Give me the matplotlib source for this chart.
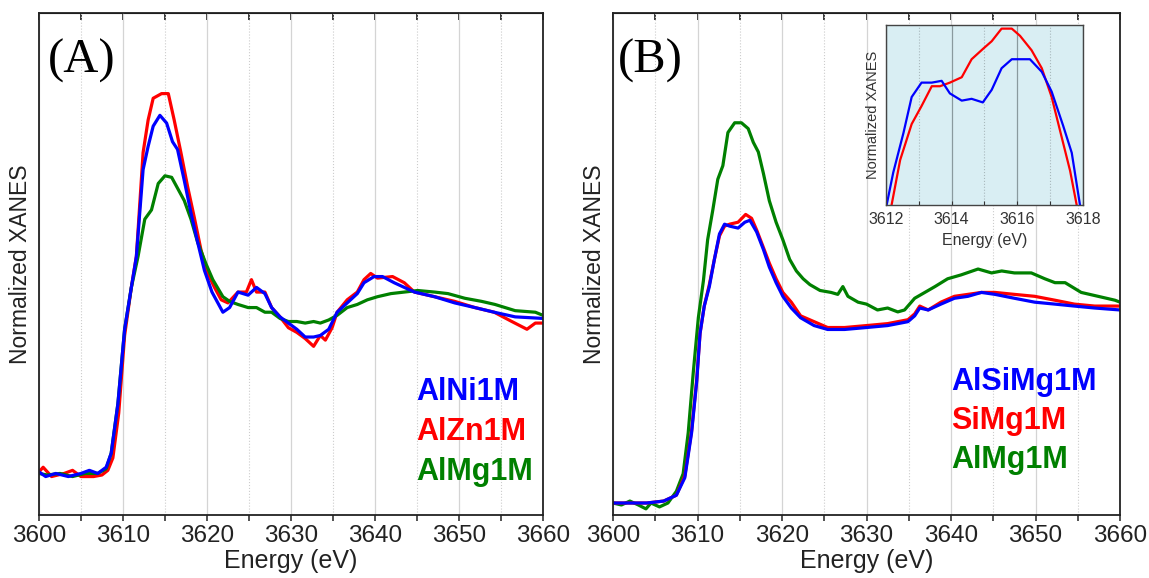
import numpy as np
import matplotlib
matplotlib.use("Agg")
import matplotlib.pyplot as plt
from matplotlib.ticker import MultipleLocator, NullLocator

plt.rcParams['font.family'] = ['Liberation Sans', 'DejaVu Sans']

#--- panel A : Al K-edge XANES of the M-doped samples
e_a_ni = [3600, 3600.8, 3602, 3603.5, 3605, 3606, 3607, 3608, 3608.6, 3609.4,
          3610.2, 3611.0, 3611.6, 3612.4, 3613.0, 3613.6, 3614.4, 3615.2, 3615.9, 3616.5,
          3617.3, 3618.1, 3618.9, 3619.7, 3620.6, 3621.9, 3622.7, 3623.7, 3624.9, 3625.9,
          3626.9, 3627.7, 3628.7, 3629.7, 3630.7, 3631.7, 3632.7, 3633.5, 3634.5, 3635.5,
          3636.7, 3637.9, 3638.7, 3639.9, 3640.9, 3642.3, 3644.7, 3647.1, 3649.5, 3651.9,
          3654.2, 3656.7, 3660]
mu_a_ni = [0.02, -0.01, 0.01, -0.01, 0.01, 0.03, 0.01, 0.05, 0.14, 0.46,
           0.94, 1.21, 1.41, 1.97, 2.12, 2.25, 2.32, 2.27, 2.15, 2.10,
           1.90, 1.69, 1.50, 1.32, 1.18, 1.05, 1.08, 1.18, 1.16, 1.21,
           1.17, 1.08, 1.02, 0.98, 0.94, 0.89, 0.89, 0.90, 0.94, 1.05,
           1.11, 1.17, 1.24, 1.28, 1.28, 1.24, 1.18, 1.15, 1.11, 1.08,
           1.05, 1.02, 1.01]

e_a_zn = [3600, 3600.5, 3601.5, 3603, 3604, 3605, 3606.5, 3607.5, 3608.2, 3608.8,
          3609.5, 3610.2, 3611.0, 3611.6, 3612.4, 3613.0, 3613.6, 3614.6, 3615.4, 3616.1,
          3616.9, 3617.7, 3618.5, 3619.3, 3620.1, 3620.9, 3621.7, 3622.5, 3623.7, 3624.7,
          3625.3, 3625.9, 3626.9, 3627.7, 3628.7, 3629.7, 3630.7, 3631.7, 3632.7, 3633.5,
          3634.1, 3634.9, 3635.5, 3636.7, 3637.9, 3638.7, 3639.5, 3640.3, 3642.1, 3643.5,
          3644.7, 3647.1, 3649.5, 3651.9, 3654.2, 3656.3, 3658.1, 3659.1, 3660]
mu_a_zn = [0.02, 0.05, -0.01, 0.01, 0.03, -0.01, -0.01, 0.00, 0.03, 0.11,
           0.40, 0.90, 1.21, 1.41, 2.08, 2.29, 2.43, 2.46, 2.46, 2.29,
           2.08, 1.86, 1.66, 1.45, 1.30, 1.21, 1.13, 1.11, 1.18, 1.18,
           1.26, 1.18, 1.18, 1.08, 1.02, 0.95, 0.92, 0.88, 0.83, 0.90,
           0.87, 0.95, 1.05, 1.13, 1.18, 1.26, 1.30, 1.27, 1.28, 1.24,
           1.18, 1.15, 1.12, 1.08, 1.05, 0.99, 0.94, 0.98, 0.98]

e_a_mg = [3600, 3601, 3602.5, 3604, 3605.5, 3607, 3608, 3608.6, 3609.4, 3610.2,
          3611.0, 3611.8, 3612.6, 3613.4, 3614.2, 3615.0, 3615.8, 3616.6, 3617.3, 3618.1,
          3618.9, 3619.9, 3620.7, 3621.9, 3622.7, 3623.7, 3624.9, 3625.9, 3626.9, 3627.7,
          3628.7, 3629.7, 3630.7, 3631.7, 3632.7, 3633.5, 3634.5, 3635.5, 3636.7, 3637.9,
          3639.1, 3640.3, 3641.9, 3643.5, 3645.1, 3647.1, 3648.7, 3650.7, 3652.7, 3654.3,
          3656.7, 3659.1, 3660]
mu_a_mg = [0.01, 0.00, 0.01, -0.01, 0.01, 0.01, 0.04, 0.14, 0.46, 0.94,
           1.21, 1.41, 1.65, 1.71, 1.88, 1.93, 1.92, 1.84, 1.77, 1.65,
           1.50, 1.36, 1.26, 1.15, 1.12, 1.10, 1.08, 1.08, 1.05, 1.05,
           1.01, 0.99, 0.99, 0.98, 0.99, 0.98, 1.00, 1.03, 1.08, 1.10,
           1.13, 1.15, 1.17, 1.18, 1.19, 1.18, 1.17, 1.14, 1.12, 1.10,
           1.06, 1.05, 1.03]

#--- panel B
e_b_alsimg = [3600, 3602, 3604, 3606, 3607.5, 3608.5, 3609.3, 3609.9, 3610.3, 3610.8,
              3611.4, 3612.0, 3612.6, 3613.2, 3613.8, 3614.8, 3615.6, 3616.2, 3617.0, 3617.8,
              3618.5, 3619.3, 3620.1, 3621.1, 3622.2, 3623.8, 3625.4, 3627.4, 3630.0, 3632.5,
              3634.9, 3635.7, 3636.3, 3637.3, 3638.8, 3640.4, 3642.0, 3643.6, 3645.2, 3647.5,
              3649.9, 3652.3, 3654.6, 3657.0, 3660]
mu_b_alsimg = [0.00, 0.00, 0.00, 0.01, 0.04, 0.13, 0.36, 0.62, 0.87, 1.01,
               1.11, 1.25, 1.38, 1.43, 1.42, 1.41, 1.44, 1.45, 1.39, 1.30,
               1.21, 1.13, 1.06, 1.00, 0.95, 0.91, 0.89, 0.89, 0.90, 0.91,
               0.93, 0.96, 1.00, 0.99, 1.02, 1.05, 1.06, 1.08, 1.07, 1.05,
               1.03, 1.02, 1.01, 1.00, 0.99]

e_b_simg = [3600, 3602, 3604, 3606, 3607.5, 3608.5, 3609.3, 3609.9, 3610.3, 3610.8,
            3611.4, 3612.0, 3612.6, 3613.2, 3613.8, 3614.8, 3615.7, 3616.4, 3617.0, 3617.8,
            3618.5, 3619.3, 3620.1, 3621.1, 3622.2, 3623.8, 3625.4, 3627.4, 3630.0, 3632.5,
            3634.9, 3635.7, 3636.3, 3637.3, 3638.8, 3640.4, 3642.0, 3643.6, 3645.2, 3647.5,
            3649.9, 3652.3, 3654.6, 3657.0, 3660]
mu_b_simg = [0.00, 0.00, 0.00, 0.01, 0.04, 0.14, 0.37, 0.63, 0.87, 1.01,
             1.12, 1.25, 1.37, 1.42, 1.43, 1.44, 1.48, 1.46, 1.40, 1.31,
             1.23, 1.15, 1.08, 1.03, 0.96, 0.93, 0.90, 0.90, 0.91, 0.92,
             0.94, 0.97, 1.01, 0.99, 1.03, 1.06, 1.07, 1.08, 1.08, 1.07,
             1.06, 1.04, 1.02, 1.01, 1.01]

e_b_almg = [3600, 3601, 3602, 3603, 3603.9, 3604.5, 3605.5, 3606.5, 3607.5, 3608.3,
            3608.9, 3609.5, 3610.1, 3610.7, 3611.2, 3611.8, 3612.4, 3613.0, 3613.6, 3614.4,
            3615.2, 3616.0, 3616.6, 3617.2, 3617.8, 3618.5, 3619.3, 3620.1, 3620.9, 3621.7,
            3622.5, 3623.3, 3624.5, 3625.8, 3626.6, 3627.2, 3627.8, 3629.0, 3630.0, 3631.3,
            3632.5, 3633.7, 3634.5, 3635.7, 3636.9, 3638.1, 3639.6, 3641.2, 3643.2, 3644.8,
            3646.0, 3647.5, 3649.5, 3651.1, 3652.3, 3653.5, 3655.4, 3657.4, 3659.4, 3660]
mu_b_almg = [0.00, -0.01, 0.01, -0.01, -0.03, 0.00, -0.02, 0.00, 0.06, 0.15,
             0.36, 0.67, 0.95, 1.14, 1.35, 1.50, 1.66, 1.73, 1.90, 1.95,
             1.95, 1.92, 1.85, 1.80, 1.69, 1.55, 1.44, 1.35, 1.25, 1.19,
             1.15, 1.12, 1.09, 1.08, 1.07, 1.11, 1.06, 1.03, 1.02, 0.99,
             1.00, 0.98, 0.99, 1.05, 1.08, 1.11, 1.15, 1.17, 1.20, 1.18,
             1.19, 1.18, 1.18, 1.15, 1.13, 1.13, 1.08, 1.06, 1.04, 1.03]

#--- inset of panel B (white line region)
e_in_alsimg = [3612.03, 3612.23, 3612.54, 3612.79, 3613.09, 3613.40, 3613.70, 3613.95, 3614.31, 3614.61,
               3614.95, 3615.22, 3615.52, 3615.83, 3616.38, 3616.74, 3617.04, 3617.39, 3617.65, 3617.90]
mu_in_alsimg = [0.00, 0.18, 0.40, 0.60, 0.68, 0.68, 0.69, 0.62, 0.58, 0.59,
                0.57, 0.64, 0.76, 0.81, 0.81, 0.74, 0.63, 0.44, 0.29, 0.00]
e_in_simg = [3612.18, 3612.44, 3612.79, 3613.09, 3613.40, 3613.65, 3613.95, 3614.31, 3614.61, 3614.97,
             3615.22, 3615.52, 3615.83, 3616.08, 3616.43, 3616.74, 3617.04, 3617.34, 3617.60, 3617.80]
mu_in_simg = [0.00, 0.25, 0.45, 0.55, 0.66, 0.66, 0.68, 0.71, 0.81, 0.87,
              0.91, 0.98, 0.98, 0.94, 0.86, 0.76, 0.60, 0.38, 0.19, 0.00]

labels_a = ['AlNi1M', 'AlZn1M', 'AlMg1M']
labels_b = ['AlSiMg1M', 'SiMg1M', 'AlMg1M']
cols = ['#0000ff', '#ff0000', '#008000']


def style_main(ax, ylim):
    ax.set_xlim(3600, 3660)
    ax.set_ylim(*ylim)
    ax.xaxis.set_major_locator(MultipleLocator(10))
    ax.xaxis.set_minor_locator(MultipleLocator(5))
    ax.yaxis.set_major_locator(NullLocator())
    ax.grid(True, which='major', axis='x', color='#d4d4d4', lw=0.9, ls='-')
    ax.grid(True, which='minor', axis='x', color='#cccccc', lw=0.8, ls=':')
    ax.set_axisbelow(True)
    for sp in ax.spines.values():
        sp.set_linewidth(1.3)
        sp.set_color('#222222')
    ax.tick_params(axis='x', which='both', direction='out', length=4, width=1.1,
                   labelsize=17.5, pad=3, colors='#222222')
    top = ax.secondary_xaxis('top')
    top.xaxis.set_major_locator(MultipleLocator(10))
    top.xaxis.set_minor_locator(MultipleLocator(5))
    top.tick_params(axis='x', which='both', direction='in', length=5, width=1.1,
                    labeltop=False)
    ax.set_xlabel('Energy (eV)', fontsize=18, labelpad=2, color='#222222')
    ax.set_ylabel('Normalized XANES', fontsize=16.5, labelpad=5, color='#222222')


fig = plt.figure(figsize=(11.49, 5.78), dpi=100)

axA = fig.add_axes([0.0339, 0.109, 0.4386, 0.8685])
axA.plot(e_a_zn, mu_a_zn, color=cols[1], lw=2.3)
axA.plot(e_a_mg, mu_a_mg, color=cols[2], lw=2.3)
axA.plot(e_a_ni, mu_a_ni, color=cols[0], lw=2.3)
style_main(axA, (-0.258, 2.98))
axA.text(0.018, 0.905, '(A)', transform=axA.transAxes, fontsize=35,
         family=['Liberation Serif'], ha='left', va='center')
for i, (lab, c) in enumerate(zip(labels_a, cols)):
    axA.text(0.748, 0.245 - i * 0.0795, lab, transform=axA.transAxes, color=c,
             fontsize=22, fontweight='bold', ha='left', va='center')

axB = fig.add_axes([0.5335, 0.109, 0.4413, 0.8685])
axB.plot(e_b_almg, mu_b_almg, color=cols[2], lw=2.3)
axB.plot(e_b_simg, mu_b_simg, color=cols[1], lw=2.3)
axB.plot(e_b_alsimg, mu_b_alsimg, color=cols[0], lw=2.3)
style_main(axB, (-0.0615, 2.513))
axB.text(0.01, 0.905, '(B)', transform=axB.transAxes, fontsize=35,
         family=['Liberation Serif'], ha='left', va='center')
for i, (lab, c) in enumerate(zip(labels_b, cols)):
    axB.text(0.667, 0.265 - i * 0.0777, lab, transform=axB.transAxes, color=c,
             fontsize=22, fontweight='bold', ha='left', va='center')

#inset
axI = fig.add_axes([0.7708, 0.6453, 0.172, 0.3114])
axI.set_facecolor('#d9eef3')
axI.plot(e_in_simg, mu_in_simg, color=cols[1], lw=1.6)
axI.plot(e_in_alsimg, mu_in_alsimg, color=cols[0], lw=1.6)
axI.set_xlim(3612, 3618)
axI.set_ylim(0, 1)
axI.xaxis.set_major_locator(MultipleLocator(2))
axI.xaxis.set_minor_locator(MultipleLocator(1))
axI.yaxis.set_major_locator(NullLocator())
axI.grid(True, which='major', axis='x', color='#8a9a9e', lw=0.9)
axI.grid(True, which='minor', axis='x', color='#a8b8bc', lw=0.8, ls=':')
axI.set_axisbelow(True)
for sp in axI.spines.values():
    sp.set_color('#444444')
    sp.set_linewidth(1.0)
axI.tick_params(axis='x', which='both', direction='in', length=3, width=0.8,
                labelsize=11.5, pad=5, colors='#333333')
axI.set_xlabel('Energy (eV)', fontsize=11.5, labelpad=4, color='#333333')
axI.set_ylabel('Normalized XANES', fontsize=10.5, labelpad=4, color='#333333')

fig.savefig('out.png', dpi=100)
